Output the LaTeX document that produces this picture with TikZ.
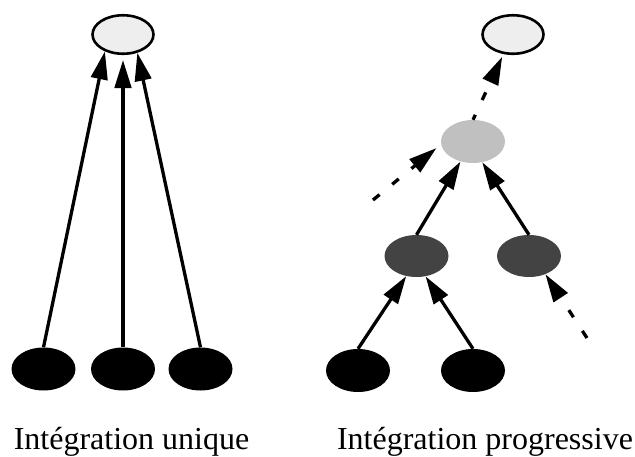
\documentclass[tikz,border=0pt]{standalone}
\usepackage{fontspec}
\setmainfont{Liberation Serif}
\usetikzlibrary{arrows.meta,shapes.geometric}
\definecolor{topfill}{HTML}{EEEEEE}
\definecolor{midgray}{HTML}{C0C0C0}
\definecolor{darkfill}{HTML}{434343}
\begin{document}
\begin{tikzpicture}[x=1pt,y=-1pt,
  topnode/.style={ellipse, draw=black, line width=2.6pt, fill=topfill, minimum width=61pt, minimum height=38.5pt, inner sep=0pt},
  leafnode/.style={ellipse, fill=black, minimum width=64pt, minimum height=43pt, inner sep=0pt},
  innernode/.style={ellipse, fill=darkfill, minimum width=64pt, minimum height=42pt, inner sep=0pt},
  midnode/.style={ellipse, fill=midgray, minimum width=64pt, minimum height=43pt, inner sep=0pt},
  link/.style={line width=3.3pt, -{Triangle[length=28pt,width=16.5pt]}},
  dlink/.style={link, dash pattern=on 8.5pt off 16.3pt},
  caption/.style={font=\fontsize{32}{38}\selectfont, anchor=base, inner sep=0pt}
]
\useasboundingbox (0,0) rectangle (635,456);
% left: single integration
\node[topnode] (t1) at (123,34.5) {};
\node[leafnode] (b1) at (43.5,369) {};
\node[leafnode] (b2) at (123,369) {};
\node[leafnode] (b3) at (200.5,369) {};
\draw[link] (b1.north) -- (t1.223);
\draw[link, shorten >=5pt] (b2.north) -- (t1.south);
\draw[link] (b3.north) -- (t1.308);
% right: progressive integration
\node[topnode] (t2) at (513,34.5) {};
\node[midnode] (g) at (473,141.5) {};
\node[innernode] (d1) at (416.5,256) {};
\node[innernode] (d2) at (529,256) {};
\node[leafnode] (b4) at (358,370.5) {};
\node[leafnode] (b5) at (473,370.5) {};
\coordinate (c1) at (373,200);
\coordinate (c2) at (587,338);
\draw[link] (b4.north) -- (d1.243);
\draw[link] (b5.north) -- (d1.294);
\draw[link] (d1.north) -- (g.238);
\draw[link] (d2.north) -- (g.294);
\draw[dlink, dash phase=3pt, shorten >=3pt] (g.north) -- (t2.244);
\draw[dlink, shorten >=6pt] (c1) -- (g.185);
\draw[dlink] (c2) -- (d2.312);
% captions
\node[caption] (cap1) at (131.5,449) {Intégration unique};
\node[caption] (cap2) at (485,449) {Intégration progressive};
\end{tikzpicture}
\end{document}
